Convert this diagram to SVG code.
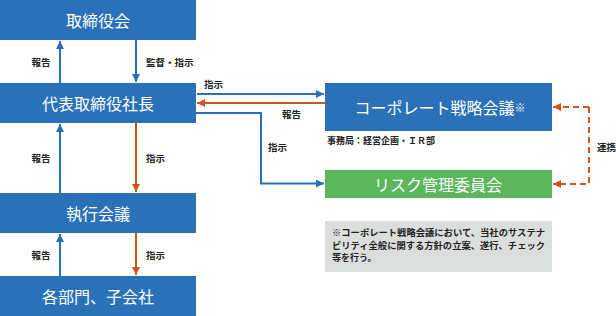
<svg xmlns="http://www.w3.org/2000/svg" width="616" height="316" viewBox="0 0 616 316">
<style>
.box{fill:#2a71b8;}
.green{fill:#5cb65c;}
.note{fill:#dcdddd;}
.bt{font-family:"Noto Sans CJK JP","Noto Sans",sans-serif;font-size:16px;fill:#fff;text-anchor:middle;dominant-baseline:central;}
.lb{font-family:"Noto Sans CJK JP","Noto Sans",sans-serif;font-size:9.5px;fill:#222;font-weight:bold;dominant-baseline:central;}
.nt{font-size:9px;}
.lbm{text-anchor:middle;}
.bl{stroke:#2a6fb8;stroke-width:2;fill:none;}
.or{stroke:#d0561a;stroke-width:2;fill:none;}
.dash{stroke:#d0561a;stroke-width:2;fill:none;stroke-dasharray:6 4;}
</style>
<defs>
<marker id="ab" markerUnits="userSpaceOnUse" markerWidth="10" markerHeight="10" refX="8" refY="4" orient="auto"><path d="M0,0 L8,4 L0,8 Z" fill="#2a6fb8"/></marker>
<marker id="ao" markerUnits="userSpaceOnUse" markerWidth="10" markerHeight="10" refX="8" refY="4" orient="auto"><path d="M0,0 L8,4 L0,8 Z" fill="#d0561a"/></marker>
</defs>
<g id="connectors">
<path class="bl" d="M60,83 V41" marker-end="url(#ab)"/>
<path class="bl" d="M136,40 V82" marker-end="url(#ab)"/>
<path class="bl" d="M60,193 V124" marker-end="url(#ab)"/>
<path class="or" d="M136,123 V192" marker-end="url(#ao)"/>
<path class="bl" d="M60,276 V234" marker-end="url(#ab)"/>
<path class="or" d="M136,233 V275" marker-end="url(#ao)"/>
<path class="bl" d="M197,94 H324" marker-end="url(#ab)"/>
<path class="or" d="M325,103 H197" marker-end="url(#ao)"/>
<path class="bl" d="M196,113 H261 V183.5 H324" marker-end="url(#ab)"/>
<path class="dash" d="M589,107 H553" marker-end="url(#ao)"/>
<path class="dash" d="M589,107 V184 H553" marker-end="url(#ao)"/>
<text class="lb lbm" x="41" y="62">報告</text>
<text class="lb" x="146" y="62">監督・指示</text>
<text class="lb lbm" x="41" y="158">報告</text>
<text class="lb" x="146" y="158">指示</text>
<text class="lb lbm" x="41" y="255">報告</text>
<text class="lb" x="146" y="255">指示</text>
<text class="lb" x="204" y="84">指示</text>
<text class="lb" x="282" y="114">報告</text>
<text class="lb" x="268" y="147">指示</text>
<text class="lb" x="597" y="147">連携</text>
</g>
<g id="n1"><rect class="box" x="0" y="0" width="196" height="40"/><text class="bt" x="98" y="20">取締役会</text></g>
<g id="n2"><rect class="box" x="0" y="83" width="196" height="40"/><text class="bt" x="98" y="103">代表取締役社長</text></g>
<g id="n3"><rect class="box" x="0" y="193" width="196" height="40"/><text class="bt" x="98" y="213">執行会議</text></g>
<g id="n4"><rect class="box" x="0" y="276" width="196" height="40"/><text class="bt" x="98" y="296">各部門、子会社</text></g>
<g id="n5"><rect class="box" x="325" y="83" width="227" height="48"/><text class="bt" x="440" y="107">コーポレート戦略会議<tspan font-size="11px">※</tspan></text></g>
<g id="n6"><text class="lb" x="327" y="140" style="font-size:9px">事務局：経営企画・ＩＲ部</text></g>
<g id="n7"><rect class="green" x="325" y="170" width="227" height="28"/><text class="bt" x="438" y="184">リスク管理委員会</text></g>
<g id="n8"><rect class="note" x="325" y="221" width="227" height="51"/>
<text class="lb nt" x="332" y="232.5" textLength="213" lengthAdjust="spacingAndGlyphs">※コーポレート戦略会議において、当社のサステナ</text>
<text class="lb nt" x="332" y="245" textLength="213" lengthAdjust="spacingAndGlyphs">ビリティ全般に関する方針の立案、遂行、チェック</text>
<text class="lb nt" x="332" y="257.5">等を行う。</text>
</g>
</svg>
